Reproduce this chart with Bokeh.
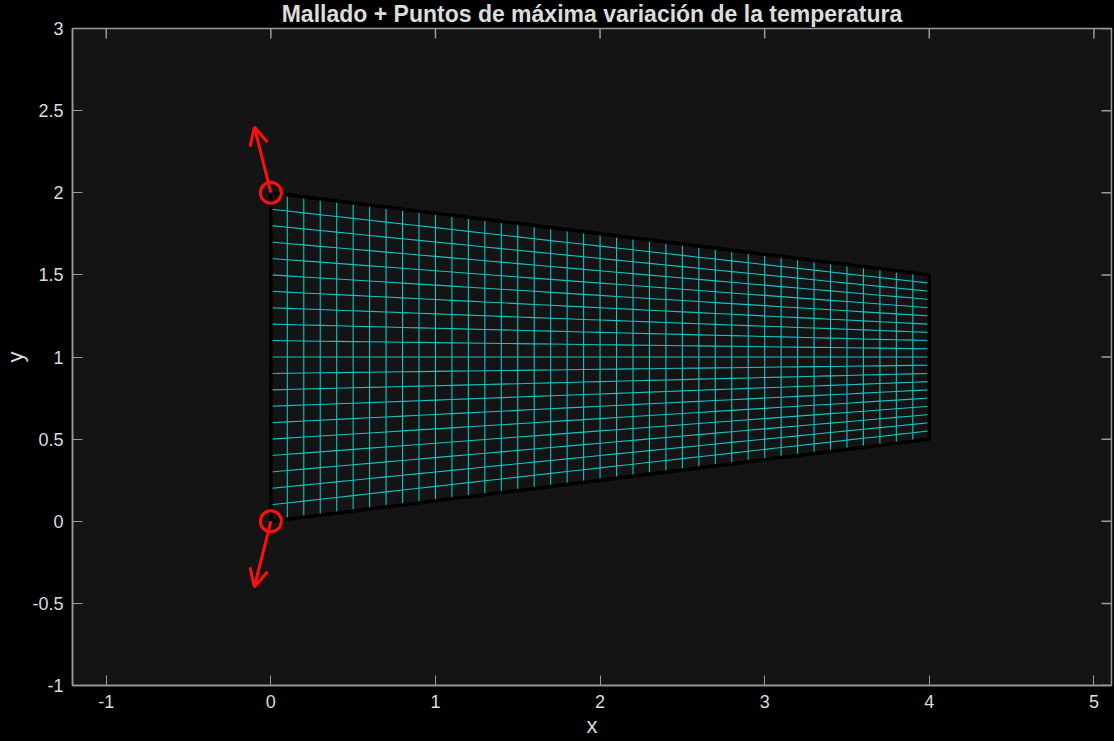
import numpy as np
from bokeh.plotting import figure
from bokeh.models import (Range1d, FixedTicker, Arrow, OpenHead,
                          ColumnDataSource, GlobalInlineStyleSheet)
from bokeh.embed import file_html
from bokeh.resources import INLINE

# ---- data ----
corner_x = [0.0, 4.0, 4.0, 0.0]          # trapezoid corners (bottom-left, bottom-right, top-right, top-left)
corner_y = [0.0, 0.5, 1.5, 2.0]
n_div_x = 40                              # mesh divisions along x
n_div_y = 20                              # mesh divisions along y
max_pts_x = [0.0, 0.0]                    # points of maximum temperature variation
max_pts_y = [2.0, 0.0]
grad_u = [-0.10, -0.10]                   # arrow components
grad_v = [0.40, -0.40]
x_ticks = [-1, 0, 1, 2, 3, 4, 5]
y_ticks = [-1, -0.5, 0, 0.5, 1, 1.5, 2, 2.5, 3]
y_tick_labels = ["-1", "-0.5", "0", "0.5", "1", "1.5", "2", "2.5", "3"]
x_tick_labels = ["-1", "0", "1", "2", "3", "4", "5"]
title_text = "Mallado + Puntos de máxima variación de la temperatura"

X_START, X_END = -1.205, 5.107
Y_START, Y_END = -1.0, 3.0

# ---- mesh built from the corners (bilinear map of a structured grid) ----
s = np.linspace(0, 1, n_div_x + 1)
t = np.linspace(0, 1, n_div_y + 1)
S, T = np.meshgrid(s, t)
x0, x1, x2, x3 = corner_x
y0, y1, y2, y3 = corner_y
X = (1 - S) * (1 - T) * x0 + S * (1 - T) * x1 + S * T * x2 + (1 - S) * T * x3
Y = (1 - S) * (1 - T) * y0 + S * (1 - T) * y1 + S * T * y2 + (1 - S) * T * y3
xs = [list(X[:, i]) for i in range(X.shape[1])] + [list(X[j, :]) for j in range(X.shape[0])]
ys = [list(Y[:, i]) for i in range(Y.shape[1])] + [list(Y[j, :]) for j in range(Y.shape[0])]

FONT = "Liberation Sans"
AX = "#9a9a9a"
TXT = "#dcdcdc"

p = figure(width=1114, height=741, output_backend="svg", toolbar_location=None,
           x_range=Range1d(X_START, X_END), y_range=Range1d(Y_START, Y_END),
           background_fill_color="#141414", border_fill_color="#000000",
           min_border_left=72, min_border_right=3, min_border_top=27, min_border_bottom=56,
           outline_line_color=AX, outline_line_width=1.5)

p.title.text = title_text
p.title.align = "center"
p.title.vertical_align = "top"
p.title.text_font = FONT
p.title.text_font_size = "23px"
p.title.text_font_style = "bold"
p.title.text_color = TXT
p.title.standoff = 0
p.title.offset = 0

p.xgrid.visible = False
p.ygrid.visible = False

for ax in [p.xaxis[0], p.yaxis[0]]:
    ax.axis_line_color = AX
    ax.axis_line_width = 1.5
    ax.major_tick_line_color = AX
    ax.major_tick_in = 10
    ax.major_tick_out = 0
    ax.minor_tick_line_color = None
    ax.major_label_text_color = TXT
    ax.major_label_text_font = FONT
    ax.major_label_text_font_size = "18px"
    ax.axis_label_text_color = TXT
    ax.axis_label_text_font = FONT
    ax.axis_label_text_font_size = "22px"
    ax.axis_label_text_font_style = "normal"

p.xaxis[0].ticker = FixedTicker(ticks=x_ticks)
p.yaxis[0].ticker = FixedTicker(ticks=y_ticks)
p.xaxis[0].major_label_overrides = {k: v for k, v in zip(x_ticks, x_tick_labels)}
p.yaxis[0].major_label_overrides = {k: v for k, v in zip(y_ticks, y_tick_labels)}
p.xaxis[0].axis_label = "x"
p.yaxis[0].axis_label = "y"
p.xaxis[0].major_label_standoff = 9
p.yaxis[0].major_label_standoff = 9
p.xaxis[0].axis_label_standoff = 2
p.yaxis[0].axis_label_standoff = 1

# top / right tick marks (box), drawn as dashes clipped by the frame
p.scatter(x=x_ticks, y=[Y_END] * len(x_ticks), marker="dash", angle=np.pi / 2,
          size=20, line_color=AX, line_width=1.5)
p.scatter(x=[X_END] * len(y_ticks), y=y_ticks, marker="dash",
          size=20, line_color=AX, line_width=1.5)

# mesh
p.multi_line(xs=xs, ys=ys, line_color="#11c4c4", line_width=1.1)

# boundary
p.line(x=corner_x + [corner_x[0]], y=corner_y + [corner_y[0]], line_color="#000000",
       line_width=3.5, line_join="round")

# arrows
src = ColumnDataSource(dict(x0=max_pts_x, y0=max_pts_y,
                            x1=[a + b for a, b in zip(max_pts_x, grad_u)],
                            y1=[a + b for a, b in zip(max_pts_y, grad_v)]))
p.add_layout(Arrow(source=src, x_start="x0", y_start="y0", x_end="x1", y_end="y1",
                   line_color="#ff1010", line_width=3,
                   end=OpenHead(size=18, line_color="#ff1010", line_width=3)))

# points
p.scatter(x=max_pts_x, y=max_pts_y, marker="circle", size=21, fill_color=None,
          line_color="#ff1010", line_width=3)

p.stylesheets = [GlobalInlineStyleSheet(css="html, body { margin: 0 !important; padding: 0; background: #000000; overflow: hidden; }")]

open("out.html", "w").write(file_html(p, INLINE))
